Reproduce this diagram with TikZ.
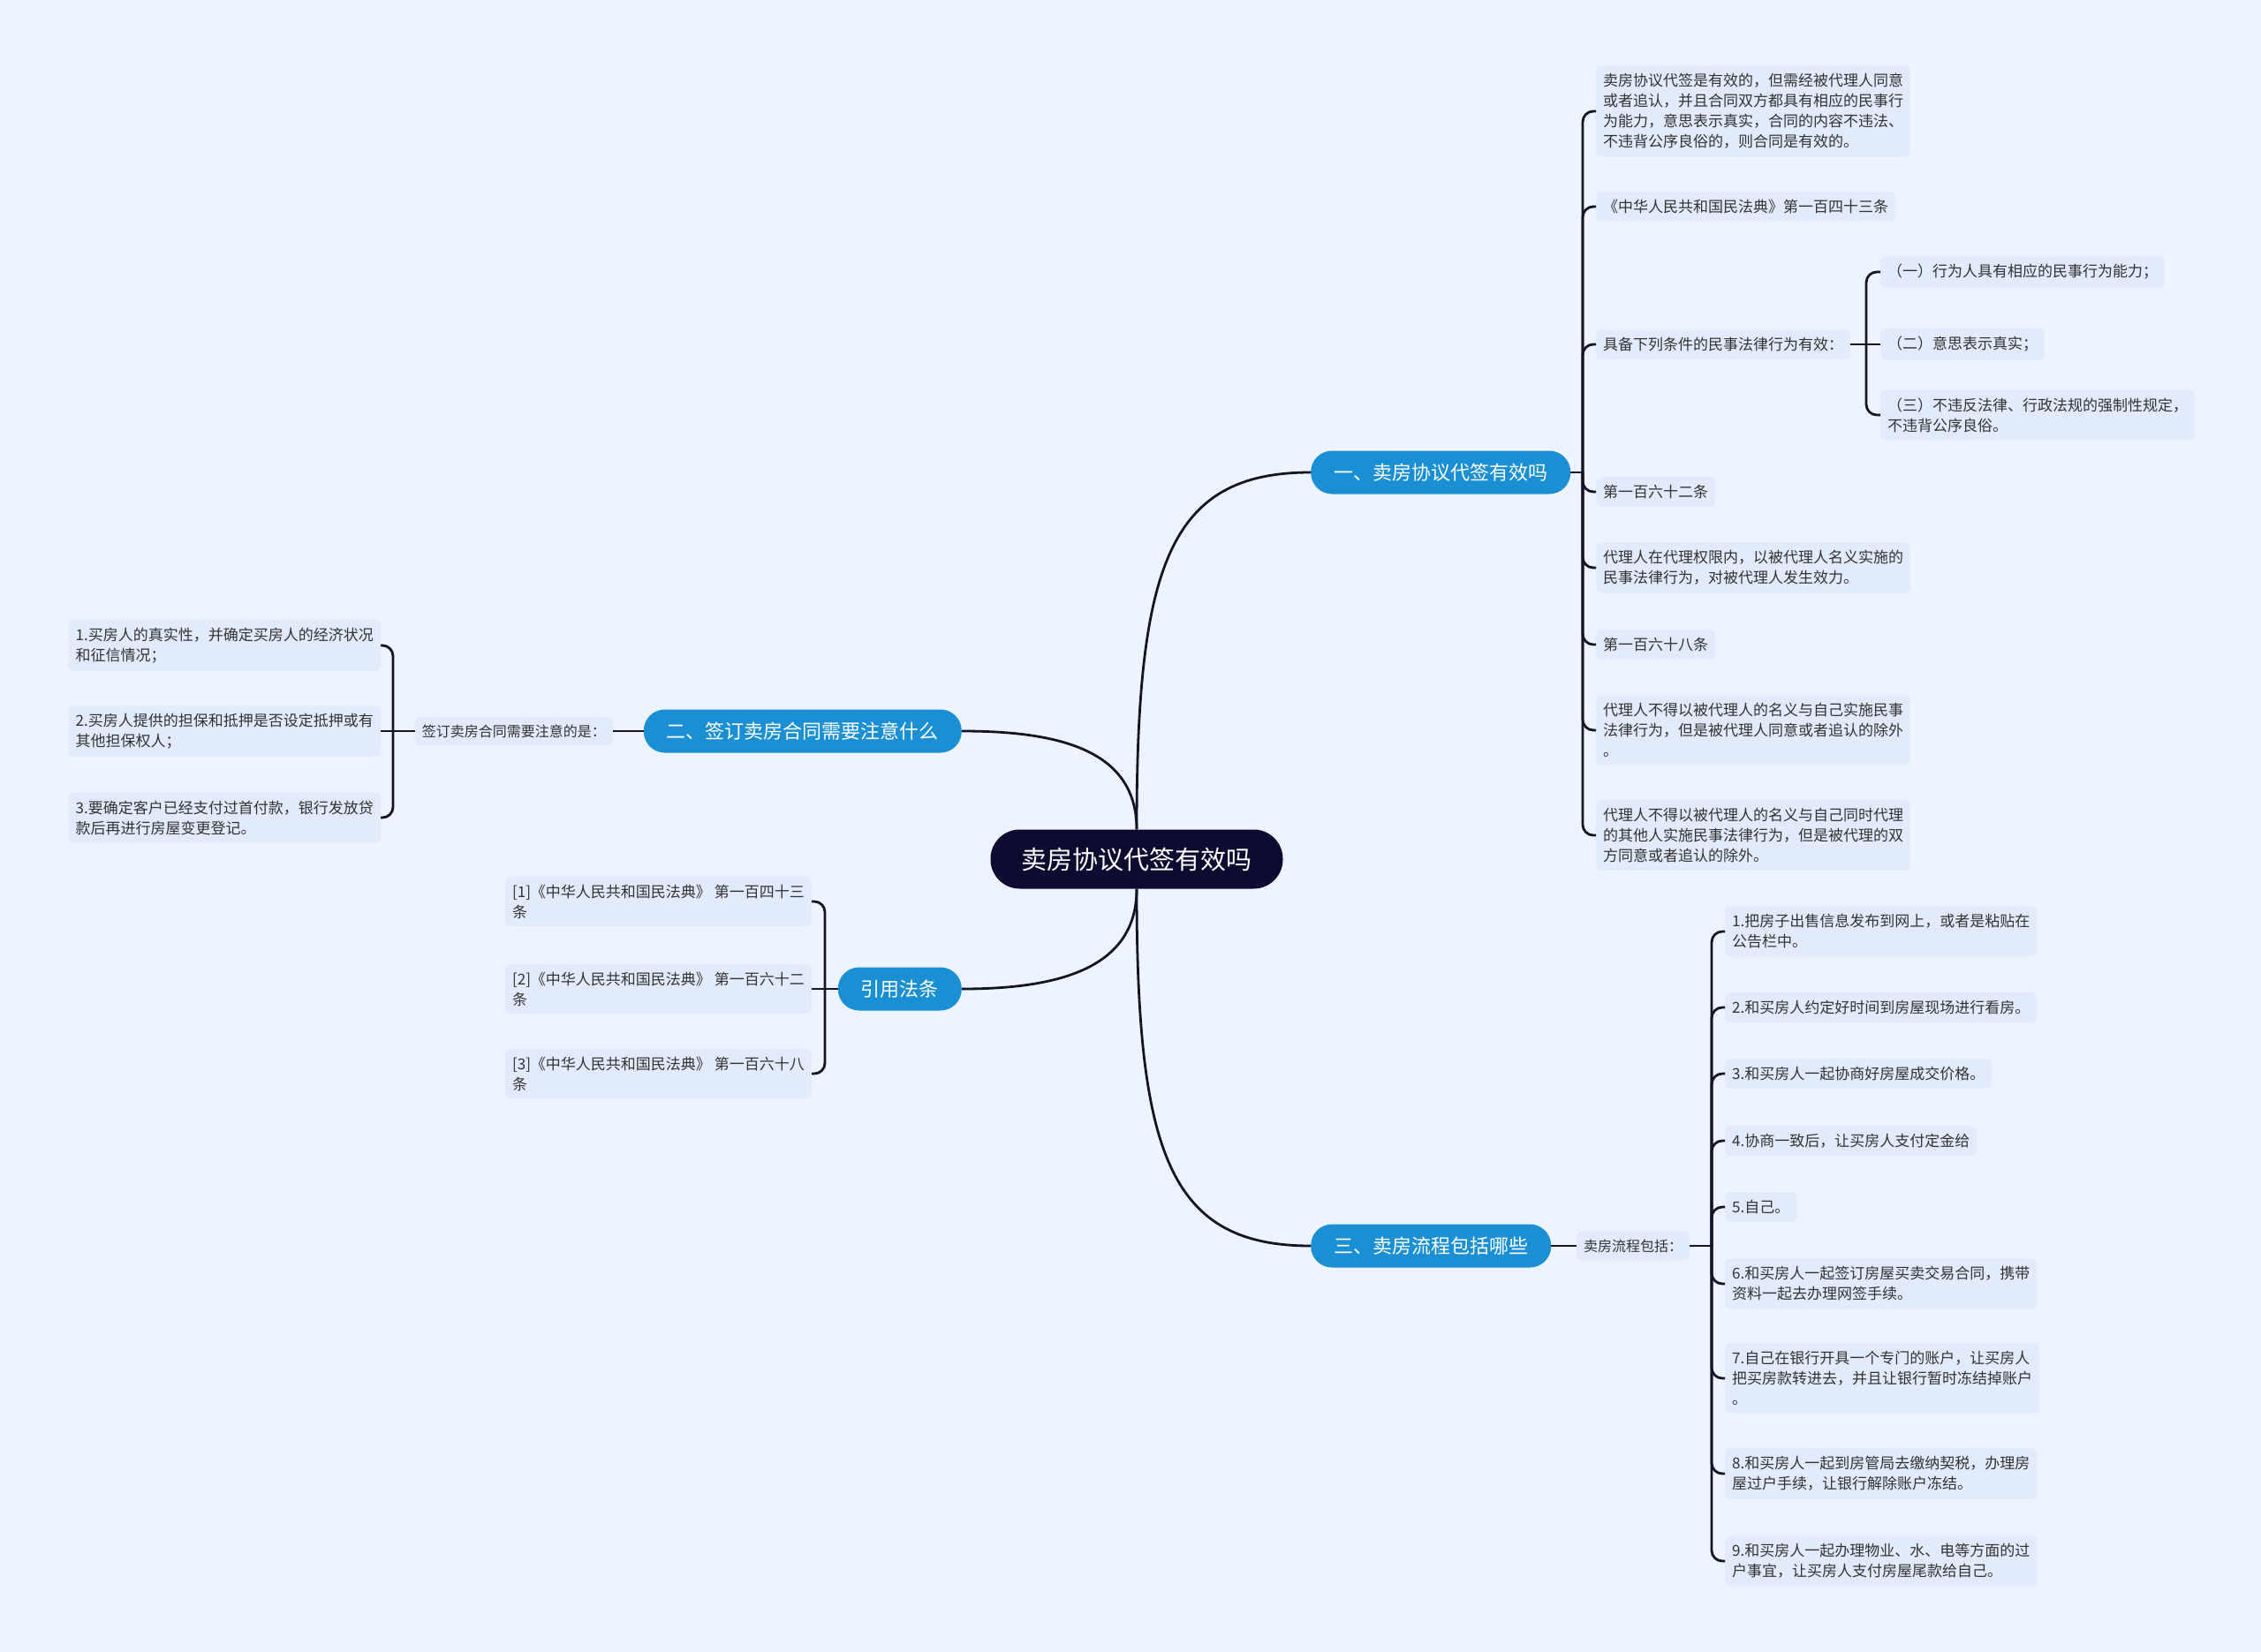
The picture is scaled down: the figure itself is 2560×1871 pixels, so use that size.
\documentclass[tikz,border=0pt]{standalone}
\usepackage{fontspec}
\usepackage{tikz}
\newfontfamily\cjk{Noto Sans CJK SC}
\definecolor{map_bg}{HTML}{EEF4FF}
\definecolor{map_root}{HTML}{0E0B30}
\definecolor{map_blue}{HTML}{1A8FD3}
\definecolor{map_leaf}{HTML}{E1EBFC}
\definecolor{map_text}{HTML}{333333}
\definecolor{map_line}{HTML}{141428}
\tikzset{
  rootnode/.style={fill=map_root, text=white, rounded corners=33pt,
                   minimum height=67pt, inner xsep=35pt,
                   font=\cjk\fontsize{29}{34}\selectfont},
  topic/.style={fill=map_blue, text=white, rounded corners=24pt,
                minimum height=49pt, inner xsep=26pt,
                font=\cjk\fontsize{22}{26}\selectfont},
  leaf/.style={fill=map_leaf, text=map_text, rounded corners=6pt,
               inner xsep=8pt, inner ysep=9pt, align=left,
               font=\cjk\fontsize{17}{23}\selectfont},
  note/.style={leaf, font=\cjk\fontsize{16}{22}\selectfont},
  link/.style={draw=map_line, line width=2.8pt},
  bracket/.style={link, rounded corners=12pt},
}
% column positions (pixels of the map)
\newcommand{\xright}{1807}
\newcommand{\xsub}{2129}
\newcommand{\xleft}{431}
\newcommand{\xcite}{919}
\newcommand{\xsteps}{1953}
% fan out from a junction to numbered children: junction, prefix, list, anchor
\newcommand{\fan}[4]{%
  \foreach \i in {#3} {\draw[bracket] (#1) |- (#2-\i.#4);}%
}

\begin{document}
\begin{tikzpicture}[x=1pt, y=-1pt]
  \useasboundingbox (0,0) rectangle (2560,1871);
  \fill[map_bg] (0,0) rectangle (2560,1871);

  % --- centre and main topics ----------------------------------------------
  \node[rootnode] (root) at (1287,973) {卖房协议代签有效吗};
  \node[topic, anchor=west] (qa) at (1484,535) {一、卖房协议代签有效吗};
  \node[topic, anchor=east] (qb) at (1089,828) {二、签订卖房合同需要注意什么};
  \node[topic, anchor=east] (cite) at (1089,1120) {引用法条};
  \node[topic, anchor=west] (qc) at (1484,1411) {三、卖房流程包括哪些};

  \draw[link] (root.north) .. controls +(0,-300) and +(-160,0) .. (qa.west);
  \draw[link] (root.north) .. controls +(0,-90) and +(110,0) .. (qb.east);
  \draw[link] (root.south) .. controls +(0,90) and +(110,0) .. (cite.east);
  \draw[link] (root.south) .. controls +(0,300) and +(-160,0) .. (qc.west);

  % --- 一、卖房协议代签有效吗 ------------------------------------------------
  \node[leaf, anchor=west] (qa-1) at (\xright,126) {卖房协议代签是有效的，但需经被代理人同意\\或者追认，并且合同双方都具有相应的民事行\\为能力，意思表示真实，合同的内容不违法、\\不违背公序良俗的，则合同是有效的。};
  \node[leaf, anchor=west] (qa-2) at (\xright,234) {《中华人民共和国民法典》第一百四十三条};
  \node[leaf, anchor=west] (qa-3) at (\xright,390) {具备下列条件的民事法律行为有效：};
  \node[leaf, anchor=west] (qa-4) at (\xright,557) {第一百六十二条};
  \node[leaf, anchor=west] (qa-5) at (\xright,643) {代理人在代理权限内，以被代理人名义实施的\\民事法律行为，对被代理人发生效力。};
  \node[leaf, anchor=west] (qa-6) at (\xright,730) {第一百六十八条};
  \node[leaf, anchor=west] (qa-7) at (\xright,827) {代理人不得以被代理人的名义与自己实施民事\\法律行为，但是被代理人同意或者追认的除外\\。};
  \node[leaf, anchor=west] (qa-8) at (\xright,946) {代理人不得以被代理人的名义与自己同时代理\\的其他人实施民事法律行为，但是被代理的双\\方同意或者追认的除外。};

  \node[leaf, anchor=west] (qa3-1) at (\xsub,308) {（一）行为人具有相应的民事行为能力；};
  \node[leaf, anchor=west] (qa3-2) at (\xsub,390) {（二）意思表示真实；};
  \node[leaf, anchor=west] (qa3-3) at (\xsub,470) {（三）不违反法律、行政法规的强制性规定，\\不违背公序良俗。};

  \coordinate (qa-j) at (1792,535);
  \draw[link] (qa.east) -- (qa-j);
  \fan{qa-j}{qa}{1,...,8}{west}
  \coordinate (qa3-j) at (2113,390);
  \draw[link] (qa-3.east) -- (qa3-j) -- (qa3-2.west);
  \fan{qa3-j}{qa3}{1,3}{west}

  % --- 二、签订卖房合同需要注意什么 -------------------------------------------
  \node[note, anchor=east] (qb-note) at (694,828) {签订卖房合同需要注意的是：};
  \node[leaf, anchor=east] (qb-1) at (\xleft,731) {1.买房人的真实性，并确定买房人的经济状况\\和征信情况；};
  \node[leaf, anchor=east] (qb-2) at (\xleft,828) {2.买房人提供的担保和抵押是否设定抵押或有\\其他担保权人；};
  \node[leaf, anchor=east] (qb-3) at (\xleft,926) {3.要确定客户已经支付过首付款，银行发放贷\\款后再进行房屋变更登记。};

  \coordinate (qb-j) at (445,828);
  \draw[link] (qb.west) -- (qb-note.east);
  \draw[link] (qb-note.west) -- (qb-j) -- (qb-2.east);
  \fan{qb-j}{qb}{1,3}{east}

  % --- 引用法条 -------------------------------------------------------------
  \node[leaf, anchor=east] (cite-1) at (\xcite,1021) {[1]《中华人民共和国民法典》 第一百四十三\\条};
  \node[leaf, anchor=east] (cite-2) at (\xcite,1120) {[2]《中华人民共和国民法典》 第一百六十二\\条};
  \node[leaf, anchor=east] (cite-3) at (\xcite,1216) {[3]《中华人民共和国民法典》 第一百六十八\\条};

  \coordinate (cite-j) at (934,1120);
  \draw[link] (cite.west) -- (cite-j) -- (cite-2.east);
  \fan{cite-j}{cite}{1,3}{east}

  % --- 三、卖房流程包括哪些 ---------------------------------------------------
  \node[note, anchor=west] (qc-note) at (1785,1411) {卖房流程包括：};
  \node[leaf, anchor=west] (qc-1) at (\xsteps,1055) {1.把房子出售信息发布到网上，或者是粘贴在\\公告栏中。};
  \node[leaf, anchor=west] (qc-2) at (\xsteps,1141) {2.和买房人约定好时间到房屋现场进行看房。};
  \node[leaf, anchor=west] (qc-3) at (\xsteps,1216) {3.和买房人一起协商好房屋成交价格。};
  \node[leaf, anchor=west] (qc-4) at (\xsteps,1292) {4.协商一致后，让买房人支付定金给};
  \node[leaf, anchor=west] (qc-5) at (\xsteps,1367) {5.自己。};
  \node[leaf, anchor=west] (qc-6) at (\xsteps,1454) {6.和买房人一起签订房屋买卖交易合同，携带\\资料一起去办理网签手续。};
  \node[leaf, anchor=west] (qc-7) at (\xsteps,1561) {7.自己在银行开具一个专门的账户，让买房人\\把买房款转进去，并且让银行暂时冻结掉账户\\。};
  \node[leaf, anchor=west] (qc-8) at (\xsteps,1669) {8.和买房人一起到房管局去缴纳契税，办理房\\屋过户手续，让银行解除账户冻结。};
  \node[leaf, anchor=west] (qc-9) at (\xsteps,1768) {9.和买房人一起办理物业、水、电等方面的过\\户事宜，让买房人支付房屋尾款给自己。};

  \coordinate (qc-j) at (1938,1411);
  \draw[link] (qc.east) -- (qc-note.west);
  \draw[link] (qc-note.east) -- (qc-j);
  \fan{qc-j}{qc}{1,...,9}{west}

\end{tikzpicture}
\end{document}
